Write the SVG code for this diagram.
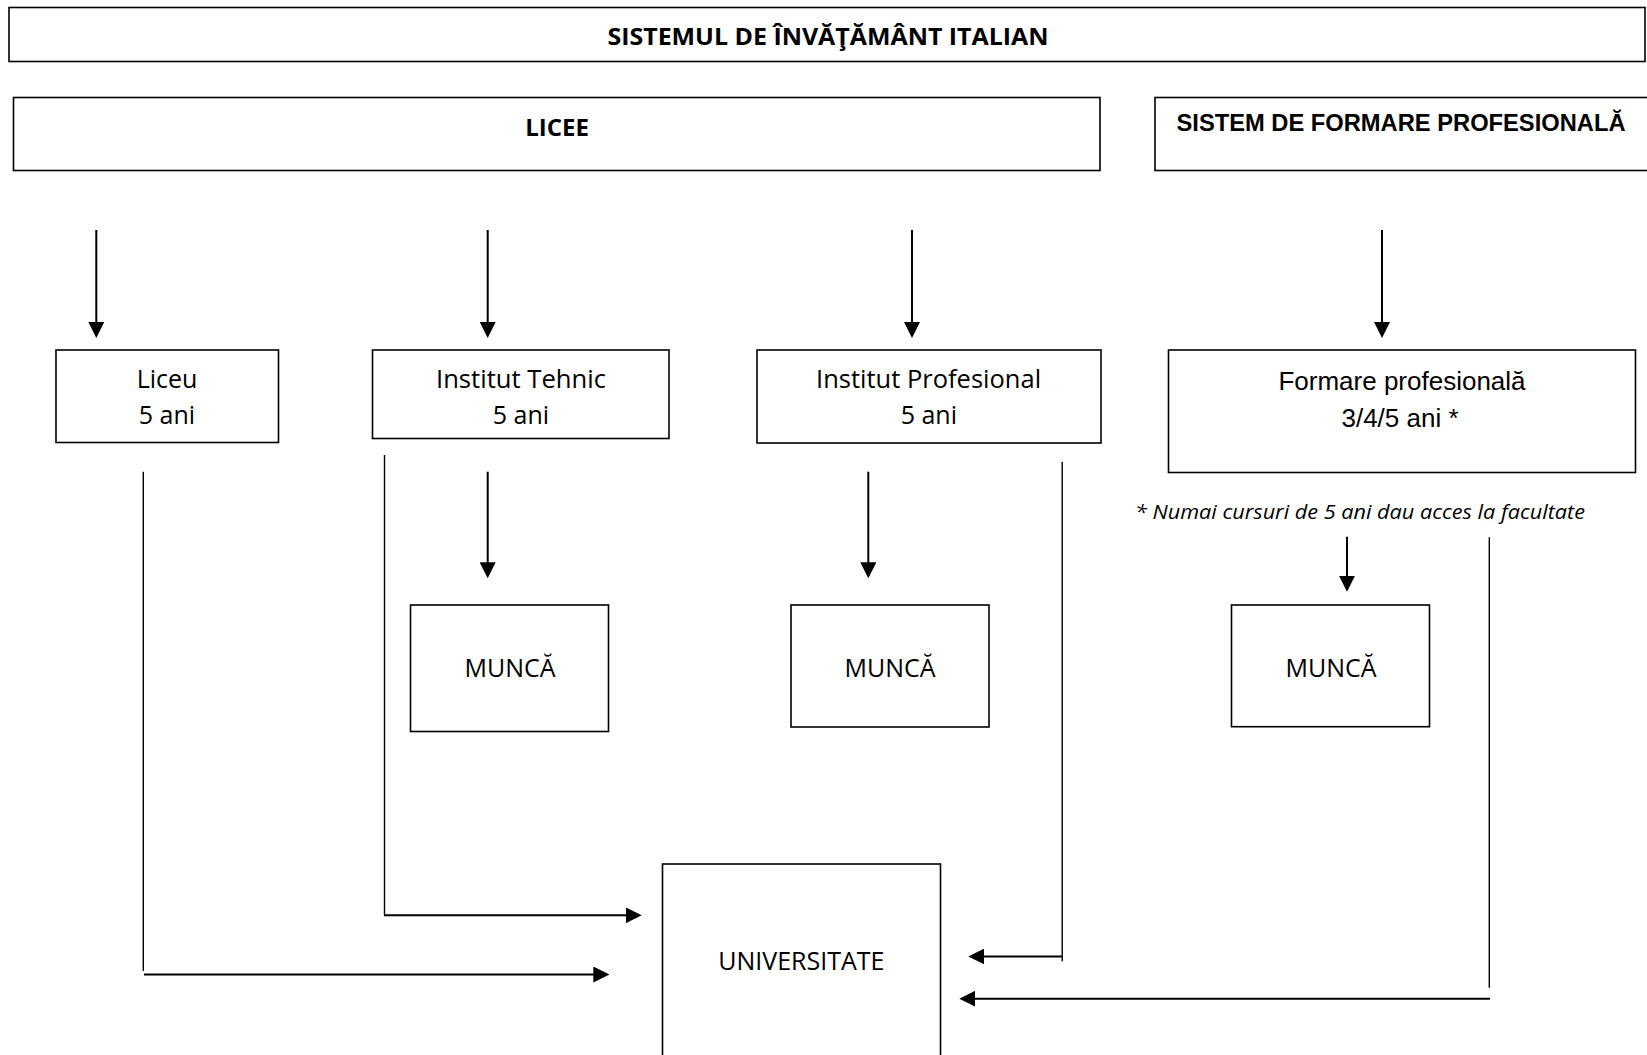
<svg xmlns="http://www.w3.org/2000/svg" width="1647" height="1055" viewBox="0 0 1647 1055">
<style>
.box{fill:#fff;stroke:#000;stroke-width:1.6}
.t{font-family:"Open Sans","Liberation Sans",sans-serif;font-size:25px;fill:#000;text-anchor:middle}
.tb{font-family:"Open Sans","Liberation Sans",sans-serif;font-size:24px;font-weight:bold;fill:#000;text-anchor:middle}
.ta{font-family:"Liberation Sans",Arial,sans-serif;font-size:26px;fill:#000;text-anchor:middle}
.tab{font-family:"Liberation Sans",Arial,sans-serif;font-size:23px;font-weight:bold;fill:#000}
.ti{font-family:"Open Sans","Liberation Sans",sans-serif;font-size:20.5px;font-style:italic;fill:#000}
.arr{stroke:#000;stroke-width:2;fill:none;marker-end:url(#ah)}
.ln{stroke:#000;stroke-width:1.4;fill:none}
</style>
<defs>
<marker id="ah" markerUnits="userSpaceOnUse" markerWidth="16" markerHeight="16" viewBox="0 0 16 16" refX="6" refY="8" orient="auto">
<path d="M0,0 L16,8 L0,16 Z" fill="#000"/>
</marker>
</defs>
<rect width="1647" height="1055" fill="#fff"/>

<g id="titlu">
<rect class="box" x="9" y="7.5" width="1636" height="54"/>
<text class="tb" x="828" y="45" textLength="441" lengthAdjust="spacingAndGlyphs">SISTEMUL DE ÎNVĂŢĂMÂNT ITALIAN</text>
</g>
<g id="licee">
<rect class="box" x="13.5" y="97.5" width="1086.5" height="73"/>
<text class="tb" x="557" y="135.5">LICEE</text>
</g>
<g id="sistem-formare">
<rect class="box" x="1155" y="97.5" width="520" height="73"/>
<text class="tab" x="1176.5" y="131" textLength="449" lengthAdjust="spacingAndGlyphs">SISTEM DE FORMARE PROFESIONALĂ</text>
</g>
<g id="liceu">
<rect class="box" x="56" y="350" width="222.5" height="92.5"/>
<text class="t" x="167" y="388.3">Liceu</text>
<text class="t" x="167" y="424">5 ani</text>
</g>
<g id="institut-tehnic">
<rect class="box" x="372.5" y="350" width="296.5" height="88.5"/>
<text class="t" x="521" y="388.3" textLength="170" lengthAdjust="spacingAndGlyphs">Institut Tehnic</text>
<text class="t" x="521" y="424">5 ani</text>
</g>
<g id="institut-profesional">
<rect class="box" x="757" y="350" width="344" height="93"/>
<text class="t" x="928.6" y="388.3" textLength="225" lengthAdjust="spacingAndGlyphs">Institut Profesional</text>
<text class="t" x="928.8" y="424">5 ani</text>
</g>
<g id="formare-profesionala">
<rect class="box" x="1168.5" y="350" width="467" height="122.5"/>
<text class="ta" x="1402" y="390">Formare profesională</text>
<text class="ta" x="1400" y="426.7">3/4/5 ani *</text>
</g>
<g id="nota">
<text class="ti" x="1135" y="519.3" textLength="450" lengthAdjust="spacingAndGlyphs">* Numai cursuri de 5 ani dau acces la facultate</text>
</g>
<g id="munca-1">
<rect class="box" x="410.5" y="605" width="198" height="126.5"/>
<text class="t" x="510" y="677.3">MUNCĂ</text>
</g>
<g id="munca-2">
<rect class="box" x="791" y="605" width="198" height="122"/>
<text class="t" x="890" y="677.3">MUNCĂ</text>
</g>
<g id="munca-3">
<rect class="box" x="1231.5" y="605" width="198" height="121.7"/>
<text class="t" x="1331" y="676.7">MUNCĂ</text>
</g>
<g id="universitate">
<rect class="box" x="662.5" y="864" width="278" height="210"/>
<text class="t" x="801.3" y="970">UNIVERSITATE</text>
</g>

<g id="connectors">
<line class="arr" x1="96.3" y1="230" x2="96.3" y2="328"/>
<line class="arr" x1="487.7" y1="230" x2="487.7" y2="328"/>
<line class="arr" x1="912" y1="230" x2="912" y2="328"/>
<line class="arr" x1="1382" y1="230" x2="1382" y2="328"/>

<line class="arr" x1="487.7" y1="471.7" x2="487.7" y2="568.3"/>
<line class="arr" x1="868.3" y1="471.7" x2="868.3" y2="568.3"/>
<line class="arr" x1="1347" y1="536.7" x2="1347" y2="581.7"/>

<line class="ln" x1="143.3" y1="471.7" x2="143.3" y2="971"/>
<line class="arr" x1="144" y1="974.5" x2="599.3" y2="974.5"/>

<line class="ln" x1="384.5" y1="455" x2="384.5" y2="915.3"/>
<line class="arr" x1="384" y1="915.3" x2="631.7" y2="915.3"/>

<line class="ln" x1="1062.2" y1="461.7" x2="1062.2" y2="961.3"/>
<line class="arr" x1="1062.2" y1="956.5" x2="978.3" y2="956.5"/>

<line class="ln" x1="1489.3" y1="537.3" x2="1489.3" y2="987.7"/>
<line class="arr" x1="1490" y1="998.7" x2="969.3" y2="998.7"/>
</g>
</svg>
